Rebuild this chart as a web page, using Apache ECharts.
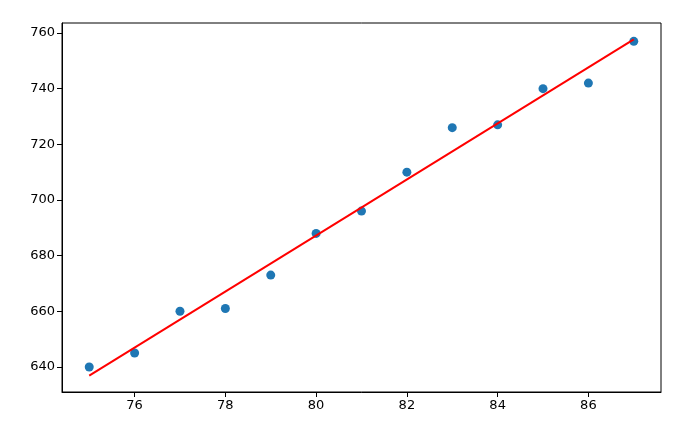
<!DOCTYPE html>
<html>
<head>
<meta charset="utf-8">
<script src="https://cdn.jsdelivr.net/npm/echarts@6/dist/echarts.min.js"></script>
<style>
  html, body { margin: 0; padding: 0; background: #fff; }
  #chart { width: 687px; height: 440px; }
</style>
</head>
<body>
<div id="chart"></div>
<script>
// scatter points
const xs = [75, 76, 77, 78, 79, 80, 81, 82, 83, 84, 85, 86, 87];
const ys = [640, 645, 660, 661, 673, 688, 696, 710, 726, 727, 740, 742, 757];
// fitted line end points
const lineX = [75, 87];
const lineY = [636.9, 757.7];

const pts = xs.map((x, i) => [x, ys[i]]);
const linePts = lineX.map((x, i) => [x, lineY[i]]);

const font = 'DejaVu Sans';
const axisCommon = {
  axisLine: { show: true, lineStyle: { color: '#000', width: 1 } },
  axisTick: { show: true, inside: false, length: 5, lineStyle: { color: '#000', width: 1 } },
  axisLabel: { color: '#000', fontFamily: font, fontSize: 13, margin: 7, showMinLabel: false, showMaxLabel: false },
  splitLine: { show: false }
};

let chart = echarts.init(document.getElementById('chart'));
chart.setOption({
  animation: false,
  backgroundColor: '#fff',
  grid: {
    left: 62, right: 26, top: 23, bottom: 48,
    containLabel: false,
    outerBoundsMode: 'none',
    show: true, borderColor: '#000', borderWidth: 1, backgroundColor: 'transparent'
  },
  xAxis: Object.assign({
    type: 'value',
    min: 74.4, max: 87.6,
    minInterval: 2, maxInterval: 2
  }, axisCommon),
  yAxis: Object.assign({
    type: 'value',
    min: 631, max: 763.6,
    minInterval: 20, maxInterval: 20
  }, axisCommon),
  series: [
    {
      type: 'scatter',
      data: pts,
      symbolSize: 9,
      itemStyle: { color: '#1f77b4', opacity: 1 },
      z: 3
    },
    {
      type: 'line',
      data: linePts,
      showSymbol: false,
      symbol: 'none',
      lineStyle: { color: '#ff0000', width: 2 },
      z: 4
    }
  ]
});
</script>
</body>
</html>
